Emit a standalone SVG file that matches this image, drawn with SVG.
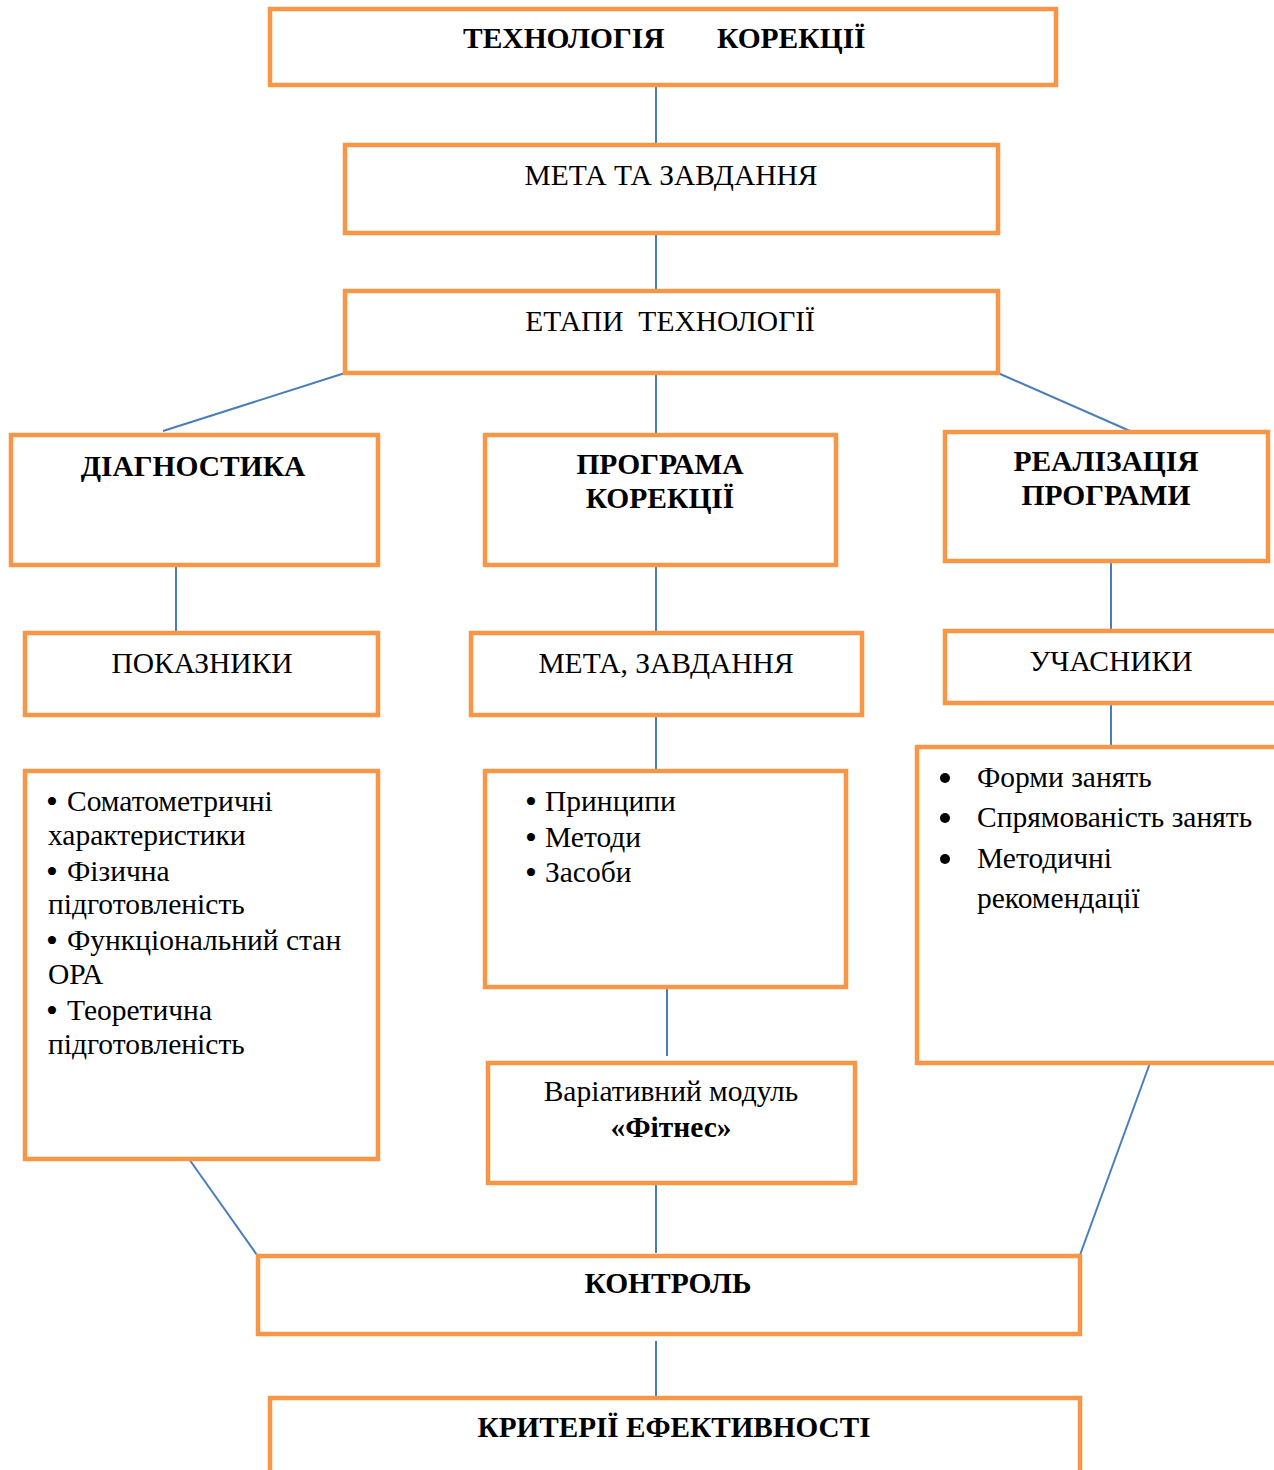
<svg xmlns="http://www.w3.org/2000/svg" width="1274" height="1470" viewBox="0 0 1274 1470">
<style>
.box{fill:#fff;stroke:#F79646;stroke-width:4.5}
.ln{stroke:#4A7EBB;stroke-width:2;fill:none}
text{font-family:"Liberation Serif","Times New Roman",serif;font-size:29.5px;fill:#000}
.b{font-weight:bold}
.c{text-anchor:middle}
.bu{font-size:34px}
</style>
<rect width="1274" height="1470" fill="#fff"/>
<g id="connectors">
<line class="ln" x1="656" y1="85" x2="656" y2="145"/>
<line class="ln" x1="656" y1="233" x2="656" y2="291"/>
<line class="ln" x1="345" y1="373" x2="163" y2="431"/>
<line class="ln" x1="656" y1="373" x2="656" y2="435"/>
<line class="ln" x1="998" y1="373" x2="1130" y2="431"/>
<line class="ln" x1="176" y1="565" x2="176" y2="633"/>
<line class="ln" x1="656" y1="565" x2="656" y2="633"/>
<line class="ln" x1="1111" y1="561" x2="1111" y2="631"/>
<line class="ln" x1="656" y1="715" x2="656" y2="771"/>
<line class="ln" x1="1111" y1="703" x2="1111" y2="747"/>
<line class="ln" x1="667" y1="987" x2="667" y2="1056"/>
<line class="ln" x1="656" y1="1183" x2="656" y2="1253"/>
<line class="ln" x1="189" y1="1159" x2="257" y2="1255"/>
<line class="ln" x1="1150" y1="1063" x2="1080" y2="1255"/>
<line class="ln" x1="656" y1="1341" x2="656" y2="1396"/>
</g>
<g id="n1"><rect class="box" x="270" y="9" width="786" height="76"/>
<text class="b" x="463" y="48">ТЕХНОЛОГІЯ</text><text class="b" x="717" y="48">КОРЕКЦІЇ</text></g>
<g id="n2"><rect class="box" x="345" y="145" width="653" height="88"/>
<text class="c" x="671" y="185">МЕТА ТА ЗАВДАННЯ</text></g>
<g id="n3"><rect class="box" x="345" y="291" width="653" height="82"/>
<text class="c" x="670" y="331" xml:space="preserve">ЕТАПИ  ТЕХНОЛОГІЇ</text></g>
<g id="n4"><rect class="box" x="11" y="435" width="367" height="130"/>
<text class="b c" x="193" y="476">ДІАГНОСТИКА</text></g>
<g id="n5"><rect class="box" x="485" y="435" width="351" height="130"/>
<text class="b c" x="660" y="474">ПРОГРАМА</text><text class="b c" x="660" y="508">КОРЕКЦІЇ</text></g>
<g id="n6"><rect class="box" x="945" y="432" width="323" height="129"/>
<text class="b c" x="1106" y="471">РЕАЛІЗАЦІЯ</text><text class="b c" x="1106" y="505">ПРОГРАМИ</text></g>
<g id="n7"><rect class="box" x="25" y="633" width="353" height="82"/>
<text class="c" x="202" y="673">ПОКАЗНИКИ</text></g>
<g id="n8"><rect class="box" x="471" y="633" width="391" height="82"/>
<text class="c" x="666" y="673">МЕТА, ЗАВДАННЯ</text></g>
<g id="n9"><rect class="box" x="945" y="631" width="340" height="72"/>
<text class="c" x="1111" y="671">УЧАСНИКИ</text></g>
<g id="n10"><rect class="box" x="25" y="771" width="353" height="388"/>
<text class="bu" x="46" y="813">•</text><text x="67" y="811">Соматометричні</text>
<text x="48" y="845">характеристики</text>
<text class="bu" x="46" y="883">•</text><text x="67" y="881">Фізична</text>
<text x="48" y="914">підготовленість</text>
<text class="bu" x="46" y="952">•</text><text x="67" y="950">Функціональний стан</text>
<text x="48" y="984">ОРА</text>
<text class="bu" x="46" y="1022">•</text><text x="67" y="1020">Теоретична</text>
<text x="48" y="1054">підготовленість</text></g>
<g id="n11"><rect class="box" x="485" y="771" width="361" height="216"/>
<text class="bu" x="525" y="813">•</text><text x="545" y="811">Принципи</text>
<text class="bu" x="525" y="849">•</text><text x="545" y="847">Методи</text>
<text class="bu" x="525" y="884">•</text><text x="545" y="882">Засоби</text></g>
<g id="n12"><rect class="box" x="917" y="747" width="370" height="316"/>
<circle cx="945" cy="778" r="5"/><text x="977" y="787">Форми занять</text>
<circle cx="945" cy="818" r="5"/><text x="977" y="827">Спрямованість занять</text>
<circle cx="945" cy="859" r="5"/><text x="977" y="868">Методичні</text>
<text x="977" y="908">рекомендації</text></g>
<g id="n13"><rect class="box" x="488" y="1063" width="367" height="120"/>
<text class="c" x="671" y="1101">Варіативний модуль</text>
<text class="b c" x="671" y="1137">«Фітнес»</text></g>
<g id="n14"><rect class="box" x="258" y="1256" width="822" height="78"/>
<text class="b c" x="668" y="1293" textLength="167" lengthAdjust="spacingAndGlyphs">КОНТРОЛЬ</text></g>
<g id="n15"><rect class="box" x="270" y="1398" width="810" height="90"/>
<text class="b c" x="674" y="1437" textLength="393" lengthAdjust="spacingAndGlyphs">КРИТЕРІЇ ЕФЕКТИВНОСТІ</text></g>
</svg>
